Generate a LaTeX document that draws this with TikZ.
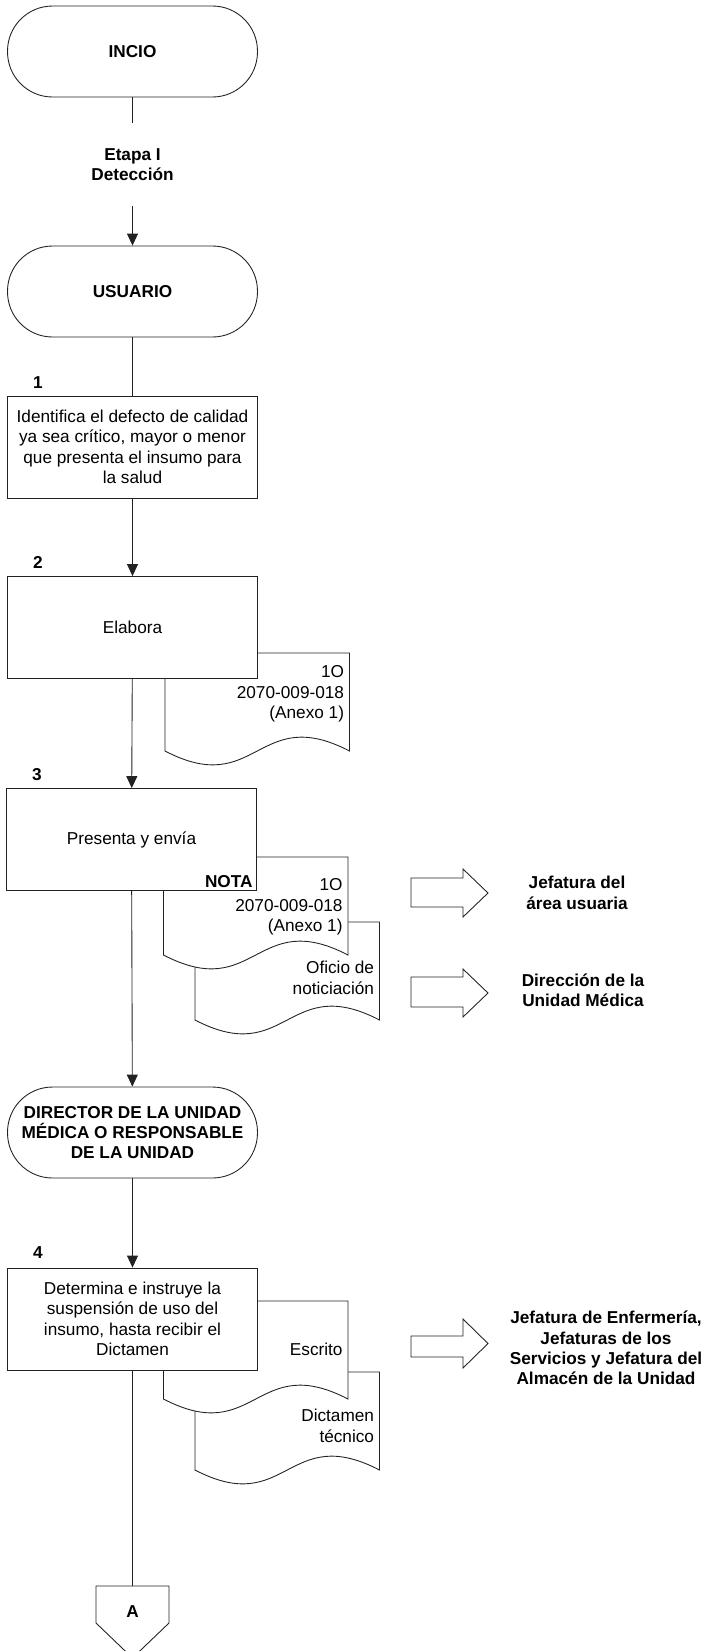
\documentclass[tikz,border=0pt]{standalone}
\usepackage{fontspec}
\setmainfont{Liberation Sans}
\usetikzlibrary{arrows.meta,positioning,calc}
\definecolor{trazo}{HTML}{222222}

\begin{document}
\begin{tikzpicture}[x=0.02cm,y=-0.02cm,line width=0.5pt,draw=trazo,
  every node/.style={font=\fontsize{9.8}{11.6}\selectfont,align=center},
  negrita/.style={font=\fontsize{9.8}{11.6}\selectfont\bfseries},
  terminal/.style={draw=trazo,fill=white,rounded corners=0.9cm,minimum width=5cm,minimum height=1.82cm,inner sep=1pt,negrita},
  proceso/.style={draw=trazo,fill=white,minimum width=5cm,minimum height=2.04cm,inner sep=2pt},
  flujo/.style={-{Triangle[length=2.4mm,width=2.2mm]}}]
  \useasboundingbox (0,0) rectangle (704,1651);
  \clip (0,0) rectangle (704,1651);

  \foreach \xa/\ya/\yt/\txt [count=\i] in {195/922/978/{Oficio de\\noticiación},163.5/857/907/{1O\\2070-009-018\\(Anexo 1)},165/653/694/{1O\\2070-009-018\\(Anexo 1)},195/1372/1426/{Dictamen\\técnico},163.5/1301/1349/{Escrito}}{
    \draw[fill=white] (\xa,\ya) -- (\xa+184.5,\ya) -- (\xa+184.5,\ya+98)
      .. controls (\xa+92.25,\ya+50) and (\xa+92.25,\ya+146) .. (\xa,\ya+98) -- cycle;
    \node[anchor=east,align=right,inner sep=0pt] (doc\i) at (\xa+179.5,\yt) {\txt};
  }

  \node[terminal] (inicio) at (132.5,51.5) {INCIO};
  \node[negrita,minimum height=1.66cm] (etapa) at (132.5,164.5) {Etapa I\\Detección};
  \node[terminal] (usuario) at (132.5,291.5) {USUARIO};
  \node[proceso] (paso1) at (132.5,447) {Identifica el defecto de calidad\\ya sea crítico, mayor o menor\\que presenta el insumo para\\la salud};
  \node[proceso] (paso2) at (132.5,627.5) {Elabora};
  \node[proceso] (paso3) at (131.5,839.5) {Presenta y envía};
  \node[terminal] (director) at (132.5,1132.5) {DIRECTOR DE LA UNIDAD\\MÉDICA O RESPONSABLE\\DE LA UNIDAD};
  \node[proceso] (paso4) at (132.5,1319) {Determina e instruye la\\suspensión de uso del\\insumo, hasta recibir el\\Dictamen};

  \node[negrita] (num1) at (38,383) {1};
  \node[negrita] (num2) at (38,562) {2};
  \node[negrita] (num3) at (37,775) {3};
  \node[negrita] (num4) at (38,1253) {4};
  \node[negrita,anchor=east,inner sep=0pt] (nota) at (253,882) {NOTA};

  \foreach \st/\sb/\ht/\hb in {878/907/869/917,977/1007/969/1017,1336/1357/1319/1368}
    \draw[fill=white] (411,\st) -- (463,\st) -- (463,\ht) -- (488,{(\ht+\hb)/2})
      -- (463,\hb) -- (463,\sb) -- (411,\sb) -- cycle;
  \node[negrita] (dest1) at (577,893) {Jefatura del\\área usuaria};
  \node[negrita] (dest2) at (583,990) {Dirección de la\\Unidad Médica};
  \node[negrita] (dest3) at (606,1348) {Jefatura de Enfermería,\\Jefaturas de los\\Servicios y Jefatura del\\Almacén de la Unidad};

  \coordinate (conA) at (132.5,1586);
  \draw[fill=white] (96,1586) -- (169,1586) -- (169,1623) -- (132.5,1658) -- (96,1623) -- cycle;
  \node[negrita] (letraA) at (132.5,1612) {A};

  \draw (inicio) -- (etapa);
  \draw[flujo] (etapa) -- (usuario);
  \draw (usuario) -- (paso1);
  \draw[flujo] (paso1) -- (paso2);
  \draw[flujo] (paso2) -- (paso3);
  \draw[flujo] (paso3) -- (director);
  \draw[flujo] (director) -- (paso4);
  \draw (paso4) -- (conA);
\end{tikzpicture}
\end{document}
